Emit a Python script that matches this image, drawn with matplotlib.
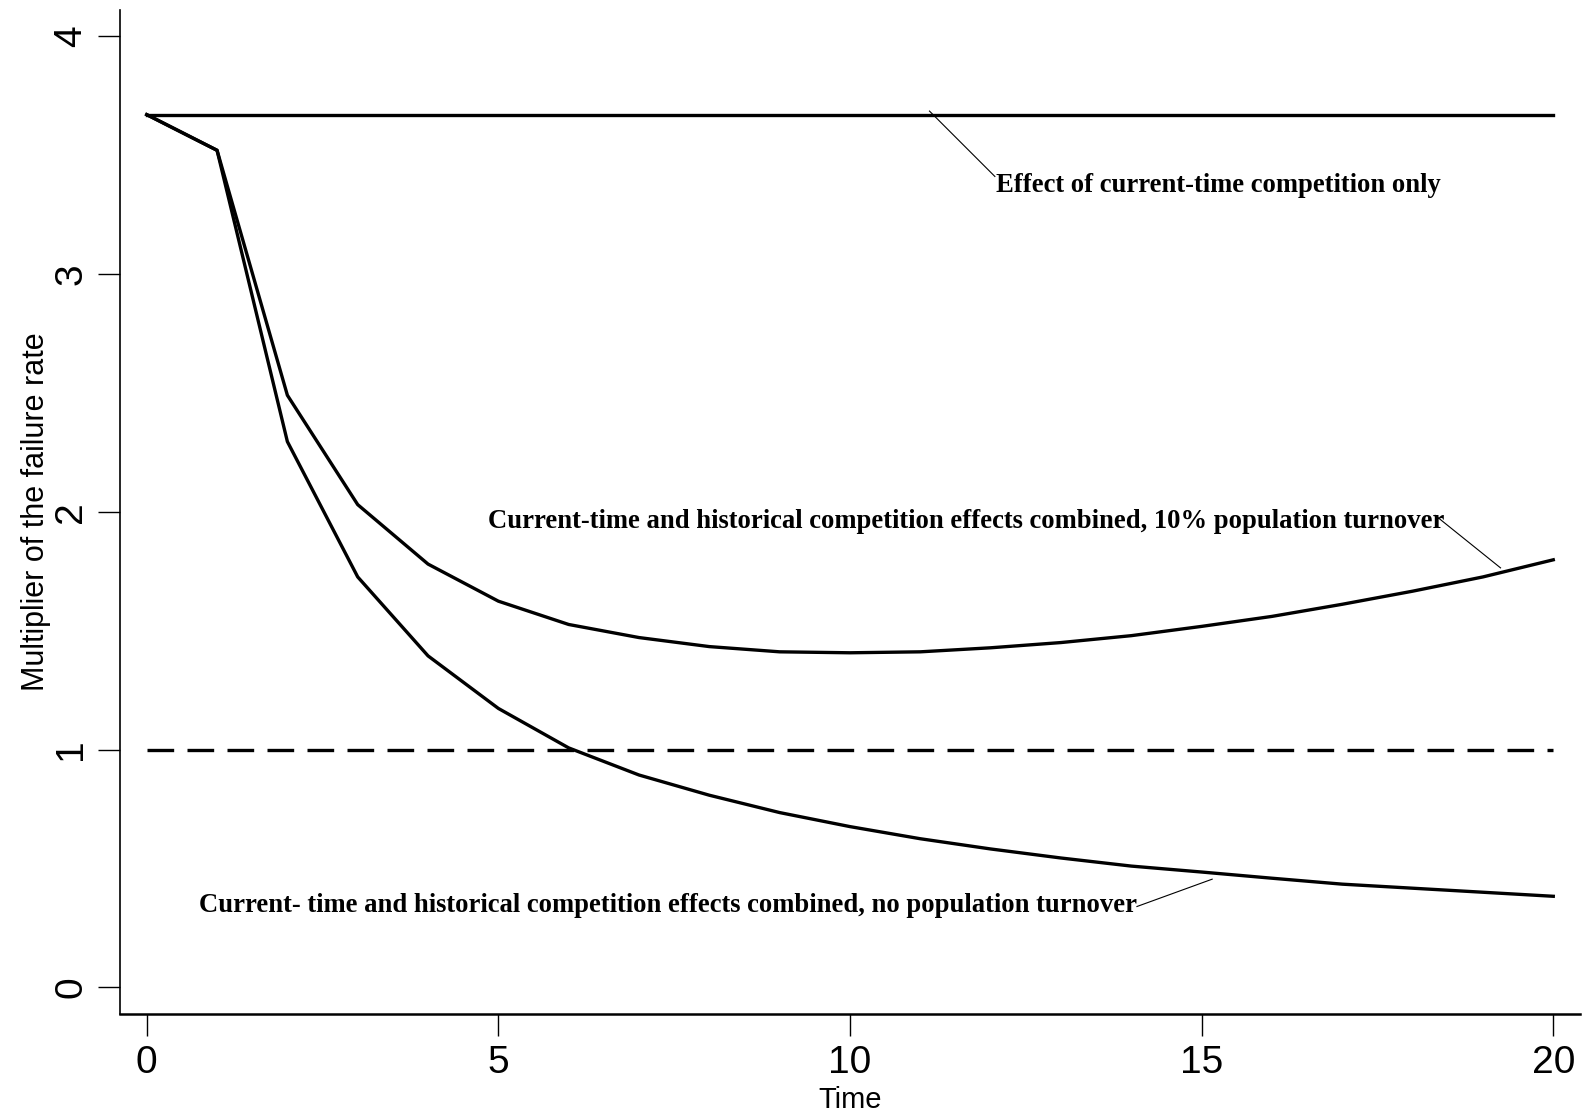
import matplotlib
matplotlib.use("Agg")
import matplotlib.pyplot as plt
import numpy as np

time = list(range(0, 21))
current_only = [3.67] * 21
turnover_10 = [3.67, 3.52, 2.49, 2.03, 1.78, 1.624, 1.526, 1.471, 1.433, 1.411, 1.407,
               1.411, 1.428, 1.45, 1.479, 1.518, 1.56, 1.611, 1.666, 1.726, 1.798]
no_turnover = [3.67, 3.52, 2.295, 1.726, 1.394, 1.173, 1.007, 0.893, 0.808, 0.735, 0.676,
               0.625, 0.582, 0.544, 0.51, 0.485, 0.459, 0.434, 0.417, 0.40, 0.383]
reference = [1.0] * 21

xticks = [0, 5, 10, 15, 20]
yticks = [0, 1, 2, 3, 4]

label_current = "Effect of current-time competition only"
label_10 = "Current-time and historical competition effects combined, 10% population turnover"
label_none = "Current- time and historical competition effects combined, no population turnover"

plt.rcParams["font.family"] = ["Liberation Sans", "DejaVu Sans"]

W, H = 1585, 1119
fig = plt.figure(figsize=(W / 100, H / 100), dpi=100)
ax_left, ax_right, ax_bottom, ax_top = 120, 1580, 1014, 10
ax = fig.add_axes([ax_left / W, 1 - ax_bottom / H, (ax_right - ax_left) / W, (ax_bottom - ax_top) / H])

lw = 2.4
ax.plot(time, current_only, color="black", lw=lw)
ax.plot(time, turnover_10, color="black", lw=lw)
ax.plot(time, no_turnover, color="black", lw=lw)
ax.plot(time, reference, color="black", lw=lw, dashes=(8, 4))

ax.set_xlim(-0.38, 20.38)
ax.set_ylim(-0.112, 4.11)
ax.spines["top"].set_visible(False)
ax.spines["right"].set_visible(False)
ax.spines["left"].set_linewidth(1.2)
ax.spines["bottom"].set_linewidth(1.8)

ax.set_xticks(xticks)
ax.set_yticks(yticks)
ax.tick_params(axis="both", direction="out", length=16, width=1.0, labelsize=28, pad=6)
for lab in ax.get_yticklabels():
    lab.set_rotation(90)
    lab.set_va("center")
ax.set_xlabel("Time", fontsize=21, labelpad=4)
ax.set_ylabel("Multiplier of the failure rate", fontsize=22, labelpad=2)

tfont = dict(family="Liberation Serif", weight="bold", fontsize=19.2)
ax.text(12.07, 3.37, label_current, ha="left", va="center", **tfont)
ax.plot([11.13, 12.06], [3.685, 3.41], color="black", lw=0.8)

ax.text(4.85, 1.96, label_10, ha="left", va="center", **tfont)
ax.plot([18.32, 19.25], [1.985, 1.764], color="black", lw=0.8)

ax.text(0.75, 0.345, label_none, ha="left", va="center", **tfont)
ax.plot([14.08, 15.15], [0.34, 0.455], color="black", lw=0.8)

fig.savefig("out.png", dpi=100)
